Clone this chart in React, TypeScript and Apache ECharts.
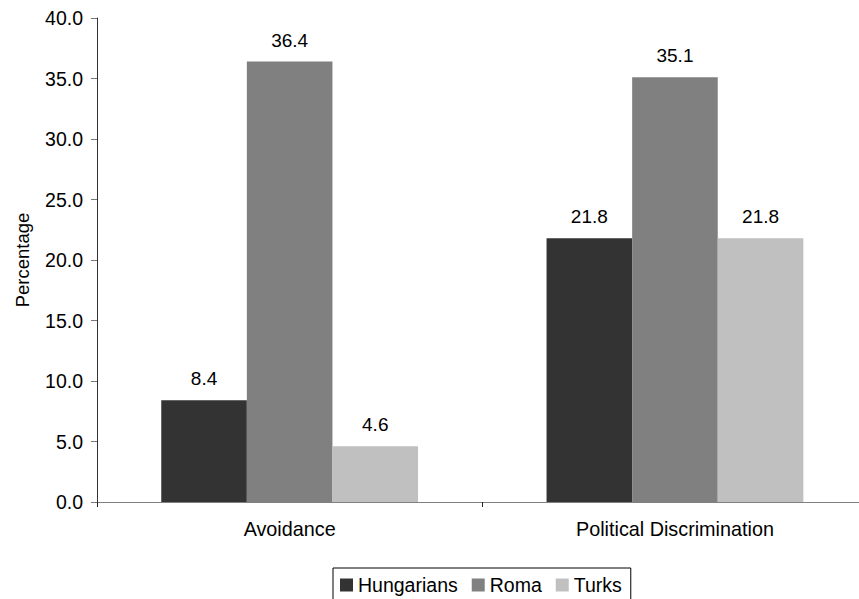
import React, { useEffect, useRef } from "react";
import * as echarts from "echarts";

const categories = ["Avoidance", "Political Discrimination"];
const seriesNames = ["Hungarians", "Roma", "Turks"];
const hungarians = [8.4, 21.8];
const roma = [36.4, 35.1];
const turks = [4.6, 21.8];
const seriesColors = ["#333333", "#808080", "#C0C0C0"];
const yTicks = { min: 0, max: 40, interval: 5 };

const FONT = "'Liberation Sans', Arial, sans-serif";

export default function App() {
  const ref = useRef<HTMLDivElement>(null);
  useEffect(() => {
    const chart = echarts.init(ref.current!, null, { renderer: "svg" });
    const values = [hungarians, roma, turks];
    chart.setOption({
      animation: false,
      textStyle: { fontFamily: FONT },
      grid: {
        left: 97,
        top: 18,
        width: 770.6,
        height: 484,
        containLabel: false,
        outerBoundsMode: "none",
      },
      legend: {
        data: seriesNames,
        left: 333,
        top: 568,
        orient: "horizontal",
        itemWidth: 13,
        itemHeight: 13,
        itemGap: 14,
        padding: [7, 9, 7, 7],
        borderColor: "#000",
        borderWidth: 1,
        borderRadius: 0,
        icon: "rect",
        textStyle: { fontFamily: FONT, fontSize: 19.5, color: "#000" },
      },
      xAxis: {
        type: "category",
        data: categories,
        axisLine: { lineStyle: { color: "#808080", width: 1 } },
        axisTick: { show: true, length: 5, lineStyle: { color: "#222" } },
        axisLabel: { color: "#000", fontSize: 19.8, fontFamily: FONT, margin: 17 },
        splitLine: { show: false },
      },
      yAxis: {
        type: "value",
        min: yTicks.min,
        max: yTicks.max,
        interval: yTicks.interval,
        name: "Percentage",
        nameLocation: "middle",
        nameGap: 65,
        nameRotate: 90,
        nameTextStyle: { color: "#000", fontSize: 18.5, fontFamily: FONT },
        axisLine: { show: true, lineStyle: { color: "#333", width: 1 } },
        axisTick: { show: true, length: 6, lineStyle: { color: "#777" } },
        axisLabel: {
          color: "#000",
          fontSize: 19.5,
          fontFamily: FONT,
          margin: 14,
          formatter: (v: number) => v.toFixed(1),
        },
        splitLine: { show: false },
      },
      series: seriesNames.map((name, i) => ({
        name,
        type: "bar",
        data: values[i],
        barWidth: 85.6,
        barGap: "0%",
        itemStyle: { color: seriesColors[i] },
        label: {
          show: true,
          position: "top",
          distance: 12,
          color: "#000",
          fontSize: 19,
          fontFamily: FONT,
          formatter: (p: any) => Number(p.value).toFixed(1),
        },
      })),
    });
    return () => chart.dispose();
  }, []);
  return (
    <div
      ref={ref}
      style={{ position: "absolute", left: 0, top: 0, width: 859, height: 599, background: "#fff" }}
    />
  );
}
